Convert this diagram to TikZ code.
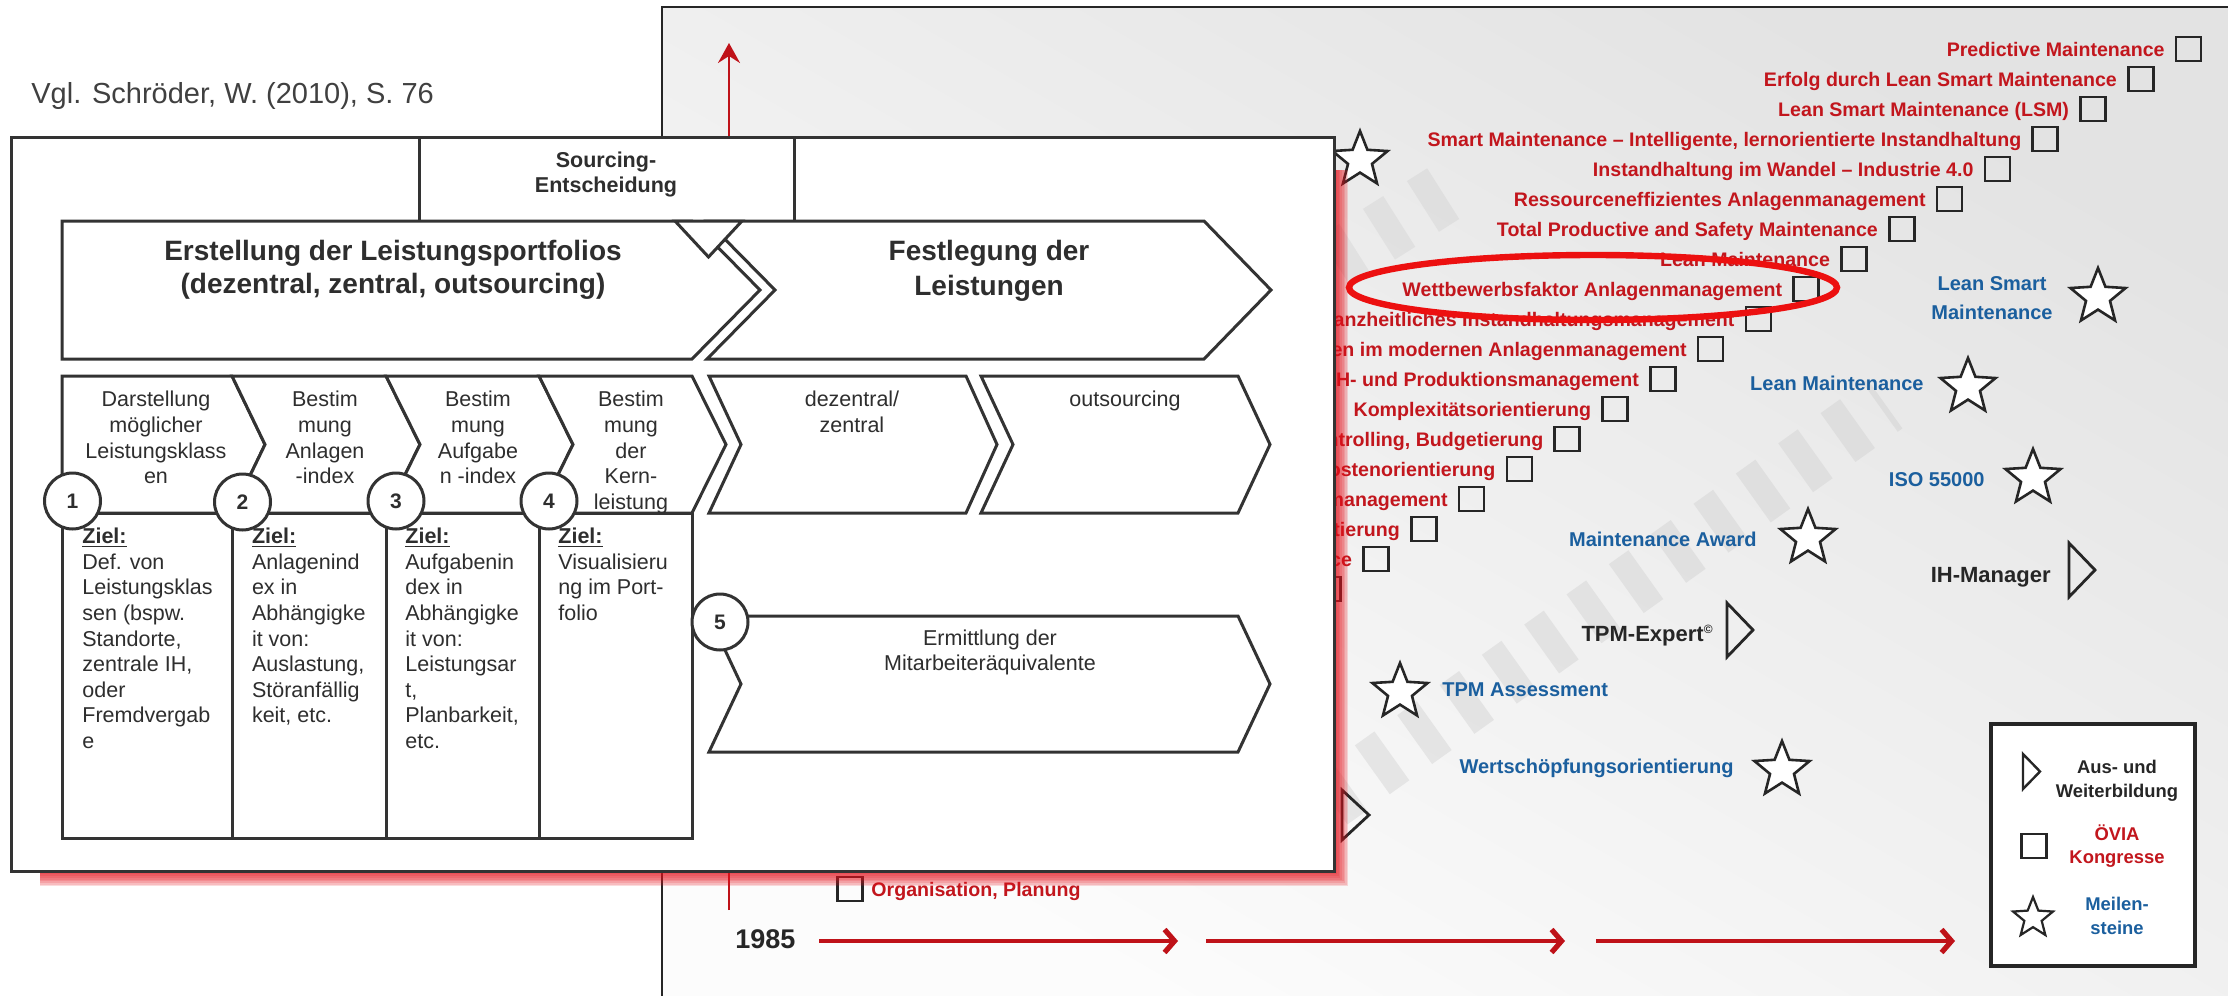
\documentclass[tikz,border=0pt]{standalone}
\usepackage{fontspec}
\setmainfont{Liberation Sans}
\usetikzlibrary{arrows.meta,shapes.geometric}

\definecolor{ink}{HTML}{333333}
\definecolor{txt}{HTML}{2E2E2E}
\definecolor{mred}{HTML}{C2161D}
\definecolor{mblue}{HTML}{1B5F9E}
\definecolor{arrowred}{HTML}{BF1219}
\definecolor{glow}{HTML}{E8101A}
\definecolor{ringred}{HTML}{EC1010}
\definecolor{stripe}{HTML}{CDCDCD}

\newcommand\zielhead{\underline{\textbf{Ziel:}}}
% one node per printed line: #1 name prefix, #2 x, #3 first baseline, #4 line step, #5 style, #6 lines
\newcommand\txtlines[6]{%
  \foreach \ln [count=\k] in {#6}{%
    \node[#5] (#1-\k) at (#2,{#3+(\k-1)*#4}) {\ln};}}

\begin{document}
\begin{tikzpicture}[x=0.5pt, y=-0.5pt,
  panel/.style={draw=ink, line width=1.5pt, fill=white, line join=miter},
  steptxt/.style={font=\fontsize{10.75}{12}\selectfont, text=txt, inner sep=0pt, anchor=base},
  zieltxt/.style={steptxt, anchor=base west},
  headtxt/.style={font=\bfseries\fontsize{14}{16}\selectfont, text=txt, inner sep=0pt, anchor=base},
  numc/.style={circle, draw=ink, line width=1.5pt, fill=white, minimum size=28pt, inner sep=0pt, text=txt, font=\bfseries\fontsize{10.5}{12}\selectfont},
  rtext/.style={font=\bfseries\fontsize{9.8}{11}\selectfont, text=mred, inner sep=0pt, anchor=base east},
  btext/.style={font=\bfseries\fontsize{10}{12}\selectfont, text=mblue, inner sep=0pt},
  ktext/.style={font=\bfseries\fontsize{11}{13}\selectfont, text=black!85, inner sep=0pt, anchor=base east},
  kbox/.style={draw=black!85, line width=1.3pt, minimum width=12.5pt, minimum height=12pt, inner sep=0pt},
  mstar/.style={star, star points=5, star point ratio=2.3, draw=black!85, line width=1.3pt, fill=white, inner sep=0pt, minimum size=29pt},
  course/.style={draw=black!85, line width=1.4pt, line join=miter},
  legtxt/.style={font=\bfseries\fontsize{9.2}{10}\selectfont, inner sep=0pt, anchor=base},
  timeline/.style={arrowred, line width=2pt, -{Straight Barb[length=5pt, width=11.5pt, line width=2.6pt]}},
  divider/.style={draw=ink, line width=1.5pt},
]
\useasboundingbox (0,0) rectangle (2228,996);
\fill[white] (0,0) rectangle (2228,996);

% ---------- timeline panel ----------
\shade[top color=black!11, bottom color=black!1, shading angle=-30] (662,7) rectangle (2228,996);
\draw[black!85, line width=1.4pt] (662,996) -- (662,7) -- (2228,7);

% faint diagonal stripes in the background
\draw[stripe, opacity=0.4, line width=30pt, dash pattern=on 12pt off 14pt] (1330,800) -- (1885,404);
\draw[stripe, opacity=0.35, line width=30pt, dash pattern=on 12pt off 14pt] (1335,262) -- (1460,183);

% congress entries (text left of the square)
\foreach \i/\t in {0/Predictive Maintenance, 1/Erfolg durch Lean Smart Maintenance, 2/Lean Smart Maintenance (LSM), 3/{Smart Maintenance – Intelligente, lernorientierte Instandhaltung}, 4/Instandhaltung im Wandel – Industrie 4.0, 5/Ressourceneffizientes Anlagenmanagement, 6/Total Productive and Safety Maintenance, 7/Lean Maintenance, 8/Wettbewerbsfaktor Anlagenmanagement, 9/Ganzheitliches Instandhaltungsmanagement, 10/Kennzahlen im modernen Anlagenmanagement, 11/IH- und Produktionsmanagement, 12/Komplexitätsorientierung, 13/{Controlling, Budgetierung}, 14/Kostenorientierung, 15/Instandhaltungsmanagement, 16/Prozessorientierung, 17/Performance}{
  \pgfmathsetmacro\bx{2176-47.8*\i}
  \pgfmathsetmacro\yc{49+30*\i}
  \node[kbox] (kb\i) at (\bx+12.5,\yc) {};
  \node[rtext] (kt\i) at (\bx-11,\yc+7) {\t};
}
\node[kbox] (kb18) at (1328.1,589) {};
\node[kbox] (kb28) at (850,889) {};
\node[rtext, anchor=base west] (kt28) at (871,896) {Organisation, Planung};

% milestones
\node[mstar] (st0) at (1360,160) {};
\node[btext, anchor=base] (bl1) at (1992,290) {Lean Smart};
\node[btext, anchor=base] (bl2) at (1992,319) {Maintenance};
\node[mstar] (st1) at (2098,297) {};
\node[btext, anchor=base east] (bl3) at (1924,390) {Lean Maintenance};
\node[mstar] (st2) at (1968,387) {};
\node[btext, anchor=base east] (bl4) at (1985,486) {ISO 55000};
\node[mstar] (st3) at (2033,478) {};
\node[btext, anchor=base east] (bl5) at (1757,546) {Maintenance Award};
\node[mstar] (st4) at (1808,538) {};
\node[mstar] (st5) at (1400,692) {};
\node[btext, anchor=base west] (bl6) at (1442,696) {TPM Assessment};
\node[btext, anchor=base east] (bl7) at (1734,773) {Wertschöpfungsorientierung};
\node[mstar] (st6) at (1782,770) {};

% training courses
\node[ktext] (ih) at (2051,582) {IH-Manager};
\draw[course] (2069,543) -- (2095,570) -- (2069,597) -- cycle;
\node[ktext] (tpm) at (1714,641) {TPM-Expert\textsuperscript{\fontsize{6}{6}\selectfont ©}};
\draw[course] (1727,603) -- (1753,630) -- (1727,657) -- cycle;
\draw[course] (1342,790) -- (1369,815) -- (1342,840) -- cycle;

% legend
\node[draw=black!85, line width=1.7pt, fill=white, minimum width=102pt, minimum height=121pt, inner sep=0pt] (leg) at (2093,845) {};
\draw[course, line width=1.2pt] (2023,754) -- (2040,771.5) -- (2023,789) -- cycle;
\node[legtxt, text=black!85] (lg1) at (2117,773) {Aus- und};
\node[legtxt, text=black!85] (lg2) at (2117,797) {Weiterbildung};
\node[kbox] (lgb) at (2034,846) {};
\node[legtxt, text=mred] (lg3) at (2117,840) {ÖVIA};
\node[legtxt, text=mred] (lg4) at (2117,863) {Kongresse};
\node[mstar, minimum size=21pt, line width=1.1pt] (lgs) at (2033,918) {};
\node[legtxt, text=mblue] (lg5) at (2117,910) {Meilen-};
\node[legtxt, text=mblue] (lg6) at (2117,934) {steine};

% time axes
\node[font=\bfseries\fontsize{13.5}{16}\selectfont, text=black!85, inner sep=0pt, anchor=base west] (yr) at (735,948) {1985};
\coordinate (t1a) at (819,941);  \coordinate (t1b) at (1178,941);
\coordinate (t2a) at (1206,941); \coordinate (t2b) at (1565,941);
\coordinate (t3a) at (1596,941); \coordinate (t3b) at (1955,941);
\draw[timeline] (t1a) -- (t1b);
\draw[timeline] (t2a) -- (t2b);
\draw[timeline] (t3a) -- (t3b);
\coordinate (va) at (729,910);
\coordinate (vb) at (729,43);
\draw[arrowred, line width=1.4pt, -{Stealth[length=10pt, width=11pt, inset=3.5pt]}] (va) -- (vb);

% ---------- sourcing panel ----------
\foreach \e in {1,...,9}{\fill[glow, opacity=0.15] (40,170) rectangle ({1334+1.6*\e},{871+1.7*\e});}
\draw[panel] (11,137) rectangle (1334,871);

\node[font=\fontsize{14.5}{17}\selectfont, text=black!75, inner sep=0pt, anchor=base west] (cite) at (31,103.5) {Vgl. Schröder, W. (2010), S. 76};

\draw[panel] (419,137) rectangle (794,221);
\node[font=\bfseries\fontsize{10.75}{12}\selectfont, text=txt, inner sep=0pt, anchor=base] (src1) at (606,167.7) {Sourcing-};
\node[font=\bfseries\fontsize{10.75}{12}\selectfont, text=txt, inner sep=0pt, anchor=base] (src2) at (606,192.7) {Entscheidung};

% main phases
\draw[panel] (62,221) -- (692,221) -- (760,290) -- (692,359) -- (62,359) -- cycle;
\draw[panel] (707,221) -- (1204,221) -- (1271,290) -- (1204,359) -- (707,359) -- (775,290) -- cycle;
\draw[panel] (675,221) -- (742,221) -- (708.5,257) -- cycle;
\node[headtxt] (h1) at (393,260) {Erstellung der Leistungsportfolios};
\node[headtxt] (h2) at (393,293) {(dezentral, zentral, outsourcing)};
\node[headtxt] (h3) at (989,260) {Festlegung der};
\node[headtxt] (h4) at (989,295) {Leistungen};

% goal columns
\draw[panel] (62,513) rectangle (692,838);
\draw[divider] (232,513) -- (232,838);
\draw[divider] (386,513) -- (386,838);
\draw[divider] (539,513) -- (539,838);

% step chevrons
\draw[panel] (62,376) -- (232,376) -- (265,444.5) -- (232,513) -- (62,513) -- cycle;
\draw[panel] (232,376) -- (386,376) -- (420,444.5) -- (386,513) -- (232,513) -- (265,444.5) -- cycle;
\draw[panel] (386,376) -- (539,376) -- (573,444.5) -- (539,513) -- (386,513) -- (420,444.5) -- cycle;
\draw[panel] (539,376) -- (692,376) -- (726,444.5) -- (692,513) -- (539,513) -- (573,444.5) -- cycle;
\draw[panel] (709,376) -- (966,376) -- (997,444.5) -- (966,513) -- (709,513) -- (741,444.5) -- cycle;
\draw[panel] (981,376) -- (1238,376) -- (1270,444.5) -- (1238,513) -- (981,513) -- (1013,444.5) -- cycle;
\draw[panel] (709,616) -- (1238,616) -- (1270,684) -- (1238,752) -- (709,752) -- (741,684) -- cycle;

\txtlines{c1}{156}{406.7}{25.7}{steptxt}{Darstellung,möglicher,Leistungsklass,en}
\txtlines{c2}{325}{406.7}{25.7}{steptxt}{Bestim,mung,Anlagen,-index}
\txtlines{c3}{478}{406.7}{25.7}{steptxt}{Bestim,mung,Aufgabe,n -index}
\txtlines{c4}{631}{406.7}{25.7}{steptxt}{Bestim,mung,der,Kern-,leistung}
\txtlines{c5}{852}{406.7}{25.7}{steptxt}{dezentral/,zentral}
\txtlines{c6}{1125}{406.7}{25.7}{steptxt}{outsourcing}
\txtlines{c7}{990}{645.7}{25}{steptxt}{Ermittlung der,Mitarbeiteräquivalente}

\txtlines{z1}{82}{543.7}{25.6}{zieltxt}{\zielhead,Def. von,Leistungsklas,sen (bspw.,{Standorte,},{zentrale IH,},oder,Fremdvergab,e}
\txtlines{z2}{251.6}{543.7}{25.6}{zieltxt}{\zielhead,Anlagenind,ex in,Abhängigke,it von:,{Auslastung,},Störanfällig,{keit, etc.}}
\txtlines{z3}{405}{543.7}{25.6}{zieltxt}{\zielhead,Aufgabenin,dex in,Abhängigke,it von:,Leistungsar,{t,},{Planbarkeit,},etc.}
\txtlines{z4}{558}{543.7}{25.6}{zieltxt}{\zielhead,Visualisieru,ng im Port-,folio}

\node[numc] (n1) at (72.5,501) {1};
\node[numc] (n2) at (242.5,502) {2};
\node[numc] (n3) at (396,501) {3};
\node[numc] (n4) at (549,501) {4};
\node[numc] (n5) at (720,622) {5};

% highlight ring
\node[draw=ringred, line width=3.2pt, ellipse, minimum width=244pt, minimum height=32.5pt, inner sep=0pt] (ring) at (1593,287.5) {};
\end{tikzpicture}
\end{document}
